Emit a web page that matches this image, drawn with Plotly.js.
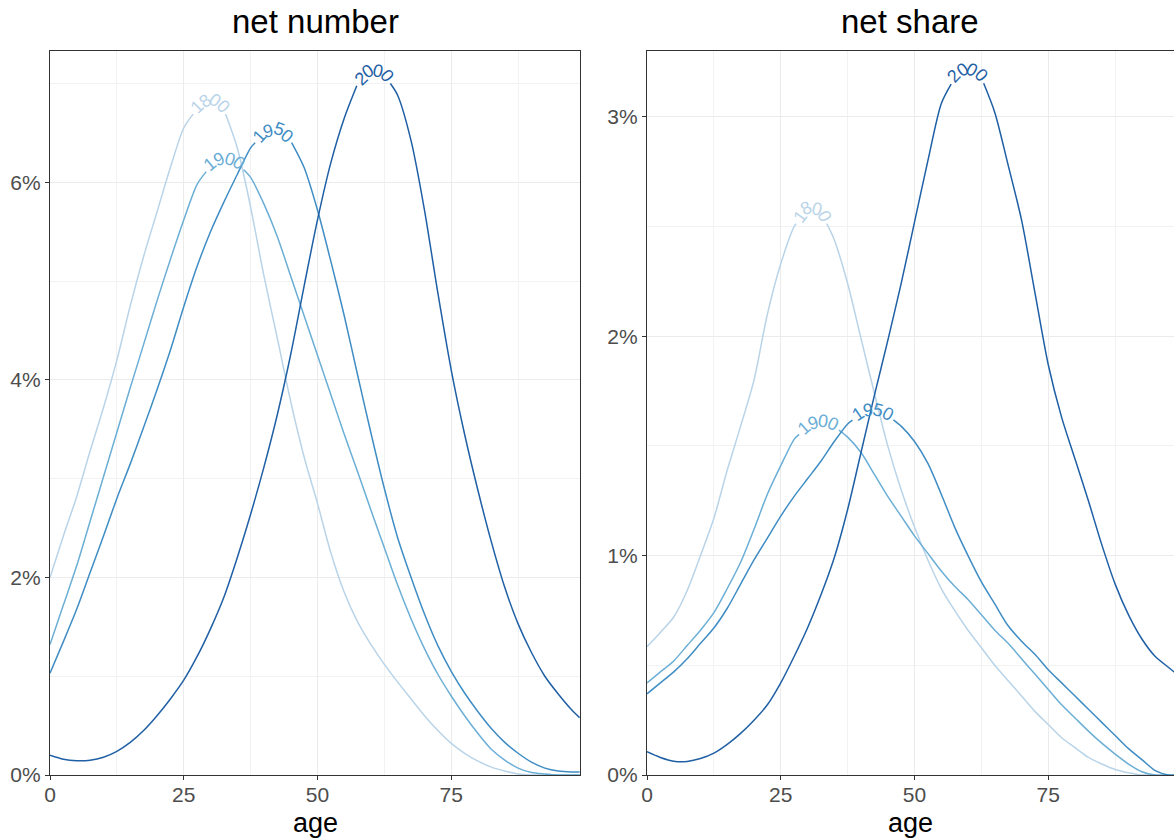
<!DOCTYPE html>
<html>
<head>
<meta charset="utf-8">
<script src="https://cdn.plot.ly/plotly-3.0.1.min.js"></script>
<style>html,body{margin:0;padding:0;background:#fff;}#chart{width:1174px;height:839px;}</style>
</head>
<body>
<div id="chart"></div>
<script>
// ---------- data ----------
const ages = [0,2.5,5,7.5,10,12.5,15,17.5,20,22.5,25,27.5,30,32.5,35,37.5,40,42.5,45,47.5,50,52.5,55,57.5,60,62.5,65,67.5,70,72.5,75,77.5,80,82.5,85,87.5,90,92.5,95,97.5,99];
const years = ["1800","1900","1950","2000"];
const colors = ["#b9d4e8","#6baed6","#3f8dc4","#1f5fa5"];

// net number (% of total)
const number1800 = [2.0,2.42,2.82,3.28,3.72,4.2,4.75,5.25,5.7,6.15,6.55,6.75,6.85,6.74,6.35,5.75,5.05,4.42,3.78,3.22,2.75,2.25,1.85,1.55,1.32,1.12,0.94,0.77,0.6,0.45,0.32,0.22,0.14,0.08,0.04,0.01,0,0,0,0,0];
const number1900 = [1.32,1.72,2.12,2.57,3.02,3.47,3.92,4.36,4.8,5.22,5.62,5.98,6.17,6.24,6.2,6.05,5.78,5.45,5.05,4.65,4.25,3.85,3.45,3.07,2.68,2.3,1.92,1.58,1.28,1.02,0.8,0.6,0.42,0.26,0.15,0.07,0.025,0.01,0,0,0];
const number1950 = [1.03,1.35,1.68,2.05,2.42,2.8,3.15,3.52,3.9,4.3,4.74,5.15,5.5,5.8,6.08,6.35,6.5,6.53,6.42,6.15,5.72,5.2,4.65,4.05,3.46,2.9,2.4,2.0,1.63,1.31,1.05,0.83,0.64,0.47,0.33,0.22,0.13,0.07,0.04,0.03,0.03];
const number2000 = [0.2,0.16,0.145,0.15,0.18,0.24,0.33,0.45,0.6,0.77,0.96,1.2,1.48,1.8,2.2,2.64,3.12,3.65,4.26,4.95,5.62,6.2,6.65,7.0,7.13,7.1,6.88,6.42,5.72,4.88,4.1,3.45,2.88,2.36,1.9,1.53,1.24,1.0,0.82,0.66,0.58];

// net share (%)
const share1800 = [0.585,0.65,0.72,0.84,1.0,1.17,1.39,1.59,1.8,2.1,2.33,2.5,2.58,2.57,2.44,2.24,1.99,1.74,1.5,1.3,1.13,0.98,0.85,0.75,0.66,0.58,0.5,0.43,0.36,0.29,0.23,0.17,0.125,0.08,0.05,0.025,0.01,0,0,0,0];
const share1900 = [0.42,0.47,0.52,0.59,0.66,0.74,0.85,0.97,1.12,1.28,1.41,1.53,1.59,1.61,1.59,1.54,1.47,1.37,1.27,1.18,1.09,1.01,0.93,0.86,0.8,0.73,0.66,0.6,0.53,0.46,0.39,0.32,0.26,0.2,0.145,0.095,0.05,0.015,0,0,0];
const share1950 = [0.37,0.42,0.47,0.53,0.6,0.67,0.76,0.87,0.98,1.08,1.18,1.27,1.35,1.43,1.52,1.6,1.65,1.66,1.64,1.59,1.52,1.42,1.28,1.13,1.0,0.88,0.78,0.68,0.61,0.55,0.48,0.42,0.36,0.3,0.24,0.18,0.12,0.07,0.02,0,0];
const share2000 = [0.106,0.08,0.063,0.062,0.075,0.1,0.14,0.19,0.25,0.32,0.42,0.54,0.67,0.82,0.99,1.21,1.47,1.73,1.98,2.24,2.52,2.8,3.06,3.18,3.22,3.18,3.02,2.78,2.53,2.2,1.87,1.63,1.44,1.25,1.05,0.87,0.73,0.62,0.54,0.49,0.46];

// label centre ages (where the year text sits on each curve)
const labelAgeNumber = [29.9, 32.6, 41.8, 60.4];
const labelAgeShare  = [30.8, 32.0, 42.2, 59.9];

const xTicks = [0,25,50,75];
const yTicksNumber = [0,2,4,6];
const yTicksShare = [0,1,2,3];

// ---------- layout geometry ----------
const W = 1174, H = 839;
const M = {l:50, r:0, t:51, b:64};
const plotW = W - M.l - M.r, plotH = H - M.t - M.b;
const dom1 = [0, 530/plotW];
const dom2 = [597/plotW, 1];
const panels = [
  {xa:'x', ya:'y', dom:dom1, xr:[0,99.07], yr:[0,7.33], series:[number1800,number1900,number1950,number2000], lab:labelAgeNumber},
  {xa:'x2', ya:'y2', dom:dom2, xr:[0,98.5], yr:[0,3.30], series:[share1800,share1900,share1950,share2000], lab:labelAgeShare}
];

const FONT = "Liberation Sans, Arial, Helvetica, sans-serif";
const LABEL_SIZE = 18;
const CHAR_W = 0.556*LABEL_SIZE;
const PAD = 3;

const traces = [];
const annotations = [];

panels.forEach(P => {
  const px0 = M.l + P.dom[0]*plotW, pw = (P.dom[1]-P.dom[0])*plotW;
  const py0 = M.t, ph = plotH;
  const toPx = (a,v) => [px0 + (a-P.xr[0])/(P.xr[1]-P.xr[0])*pw, py0 + ph - (v-P.yr[0])/(P.yr[1]-P.yr[0])*ph];
  const toData = (x,y) => [P.xr[0] + (x-px0)/pw*(P.xr[1]-P.xr[0]), P.yr[0] + (py0+ph-y)/ph*(P.yr[1]-P.yr[0])];

  P.series.forEach((vals, si) => {
    const pts = ages.map((a,i) => toPx(a, vals[i]));
    const S = [0];
    for (let i=1;i<pts.length;i++) S.push(S[i-1] + Math.hypot(pts[i][0]-pts[i-1][0], pts[i][1]-pts[i-1][1]));
    const pointAt = s => {
      s = Math.max(0, Math.min(S[S.length-1], s));
      let i = 0; while (i < S.length-2 && S[i+1] < s) i++;
      const t = (s - S[i]) / ((S[i+1]-S[i]) || 1);
      return [pts[i][0] + t*(pts[i+1][0]-pts[i][0]), pts[i][1] + t*(pts[i+1][1]-pts[i][1])];
    };
    const cx = toPx(P.lab[si], 0)[0];
    let j = 0; while (j < pts.length-2 && pts[j+1][0] < cx) j++;
    const tj = (cx - pts[j][0]) / (pts[j+1][0]-pts[j][0]);
    const sc = S[j] + tj*(S[j+1]-S[j]);
    const txt = years[si];
    const L = txt.length*CHAR_W;
    const s0 = sc - L/2 - PAD, s1 = sc + L/2 + PAD;

    const segA = {x:[], y:[]}, segB = {x:[], y:[]};
    for (let i=0;i<pts.length;i++) { if (S[i] < s0) { segA.x.push(ages[i]); segA.y.push(vals[i]); } }
    const e0 = toData(...pointAt(s0)); segA.x.push(e0[0]); segA.y.push(e0[1]);
    const e1 = toData(...pointAt(s1)); segB.x.push(e1[0]); segB.y.push(e1[1]);
    for (let i=0;i<pts.length;i++) { if (S[i] > s1) { segB.x.push(ages[i]); segB.y.push(vals[i]); } }
    [segA, segB].forEach(sg => traces.push({
      type:'scatter', mode:'lines', x:sg.x, y:sg.y, xaxis:P.xa, yaxis:P.ya,
      line:{color:colors[si], width:1.5, shape:'spline', smoothing:0.8},
      hoverinfo:'skip', showlegend:false
    }));

    for (let k=0;k<txt.length;k++) {
      const s = sc - L/2 + (k+0.5)*CHAR_W;
      const p = pointAt(s);
      const pa = pointAt(s-5), pb = pointAt(s+5);
      const ang = Math.atan2(pb[1]-pa[1], pb[0]-pa[0]) * 180/Math.PI;
      const off = 0.08*LABEL_SIZE;
      const rad = ang*Math.PI/180;
      const q = [p[0] + off*Math.sin(rad), p[1] - off*Math.cos(rad)];
      const d = toData(q[0], q[1]);
      annotations.push({
        xref:P.xa, yref:P.ya, x:d[0], y:d[1], text:txt[k], showarrow:false,
        xanchor:'center', yanchor:'middle', textangle:ang,
        font:{family:FONT, size:LABEL_SIZE, color:colors[si]}
      });
    }
  });
});

const titleY = (M.t + plotH - 22) / plotH;
const ageY = (M.t + plotH - 823) / plotH;
[["net number", dom1], ["net share", dom2]].forEach(([t, d]) => {
  annotations.push({xref:'paper', yref:'paper', x:(d[0]+d[1])/2, y:titleY, text:t, showarrow:false,
    xanchor:'center', yanchor:'middle', font:{family:FONT, size:33, color:'#000'}});
  annotations.push({xref:'paper', yref:'paper', x:(d[0]+d[1])/2, y:ageY, text:'age', showarrow:false,
    xanchor:'center', yanchor:'middle', font:{family:FONT, size:27, color:'#000'}});
});

const gridMajor = '#ebebeb', gridMinor = '#f2f2f2';
function xAxis(dom, range, anchor) {
  return {domain:dom, range:range, anchor:anchor, tickvals:xTicks, ticktext:xTicks.map(String),
    showgrid:true, gridcolor:gridMajor, gridwidth:1.1, zeroline:false,
    minor:{tickvals:[12.5,37.5,62.5,87.5], showgrid:true, gridcolor:gridMinor, gridwidth:1, ticks:''},
    showline:true, linecolor:'#333333', linewidth:1.2, mirror:true,
    ticks:'outside', ticklen:4, tickwidth:1, tickcolor:'#333333', ticklabelstandoff:-3,
    tickfont:{family:FONT, size:21, color:'#4d4d4d'}, fixedrange:true};
}
function yAxis(range, anchor, ticks, minorVals, mirror) {
  return {domain:[0,1], range:range, anchor:anchor, tickvals:ticks, ticktext:ticks.map(v => v + '%'),
    showgrid:true, gridcolor:gridMajor, gridwidth:1.1, zeroline:false,
    minor:{tickvals:minorVals, showgrid:true, gridcolor:gridMinor, gridwidth:1, ticks:''},
    showline:true, linecolor:'#333333', linewidth:1.2, mirror:mirror,
    ticks:'outside', ticklen:4, tickwidth:1, tickcolor:'#333333',
    tickfont:{family:FONT, size:21, color:'#4d4d4d'}, fixedrange:true};
}

const layout = {
  width:W, height:H, margin:M, paper_bgcolor:'#fff', plot_bgcolor:'#fff',
  showlegend:false,
  xaxis: xAxis(dom1, panels[0].xr, 'y'),
  yaxis: yAxis(panels[0].yr, 'x', yTicksNumber, [1,3,5,7], true),
  xaxis2: xAxis(dom2, panels[1].xr, 'y2'),
  yaxis2: yAxis(panels[1].yr, 'x2', yTicksShare, [0.5,1.5,2.5], false),
  annotations: annotations
};

Plotly.newPlot('chart', traces, layout, {displayModeBar:false, staticPlot:true});
</script>
</body>
</html>
